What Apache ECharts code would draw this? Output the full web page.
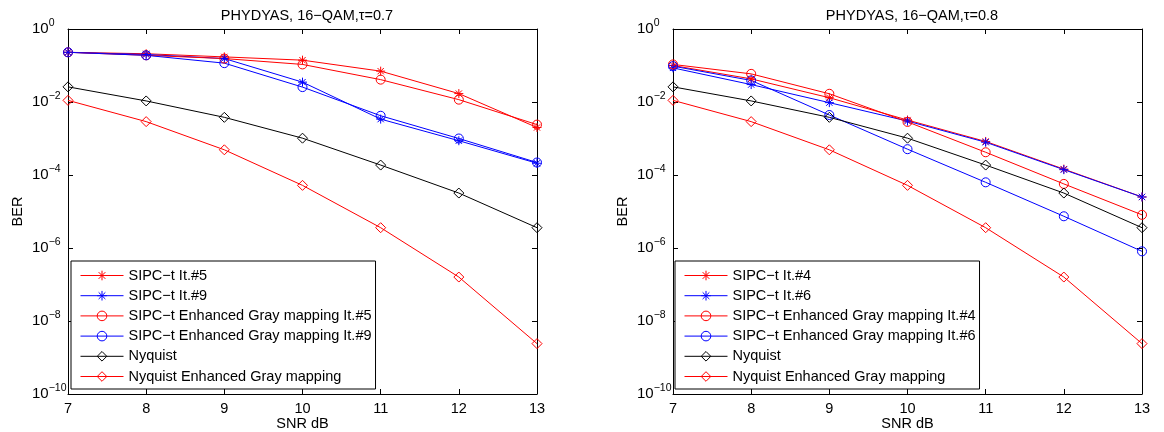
<!DOCTYPE html>
<html>
<head>
<meta charset="utf-8">
<script src="https://cdn.jsdelivr.net/npm/echarts@6/dist/echarts.min.js"></script>
<style>html,body{margin:0;padding:0;background:#fff;}#c{width:1164px;height:432px;}</style>
</head>
<body>
<div id="c"></div>
<script>
// ---- data ----
const snr = [7, 8, 9, 10, 11, 12, 13];
const yTicks = [1e-10, 1e-8, 1e-6, 1e-4, 1e-2, 1];

const titleL = 'PHYDYAS, 16\u2212QAM,\u03c4=0.7';
const titleR = 'PHYDYAS, 16\u2212QAM,\u03c4=0.8';

// left panel (tau = 0.7)
const namesL = ['SIPC\u2212t It.#5', 'SIPC\u2212t It.#9', 'SIPC\u2212t Enhanced Gray mapping It.#5',
  'SIPC\u2212t Enhanced Gray mapping It.#9', 'Nyquist', 'Nyquist Enhanced Gray mapping'];
const sipc5 = [0.23, 0.21, 0.172, 0.14, 0.07, 0.017, 0.0020];
const sipc9 = [0.23, 0.20, 0.155, 0.035, 0.0034, 8.7e-4, 2.1e-4];
const egm5 = [0.23, 0.19, 0.155, 0.107, 0.041, 0.0116, 0.0024];
const egm9 = [0.23, 0.19, 0.116, 0.0256, 0.0042, 0.0010, 2.2e-4];
const nyq = [0.026, 0.0107, 0.0038, 0.00102, 1.87e-4, 3.2e-5, 3.6e-6];
const nyqEgm = [0.0111, 0.0029, 4.9e-4, 5.2e-5, 3.6e-6, 1.6e-7, 2.4e-9];

// right panel (tau = 0.8)
const namesR = ['SIPC\u2212t It.#4', 'SIPC\u2212t It.#6', 'SIPC\u2212t Enhanced Gray mapping It.#4',
  'SIPC\u2212t Enhanced Gray mapping It.#6', 'Nyquist', 'Nyquist Enhanced Gray mapping'];
const sipc4 = [0.100, 0.043, 0.0131, 0.0032, 8.3e-4, 1.45e-4, 2.5e-5];
const sipc6 = [0.086, 0.030, 0.0096, 0.0030, 7.9e-4, 1.4e-4, 2.5e-5];
const egm4 = [0.107, 0.059, 0.0168, 0.00285, 4.2e-4, 5.7e-5, 8.1e-6];
const egm6 = [0.096, 0.039, 0.0044, 5.1e-4, 6.3e-5, 7.4e-6, 8.1e-7];
const nyqR = [0.026, 0.0107, 0.0038, 0.00102, 1.87e-4, 3.2e-5, 3.6e-6];
const nyqEgmR = [0.0111, 0.0029, 4.9e-4, 5.2e-5, 3.6e-6, 1.6e-7, 2.4e-9];

// ---- styling ----
const FONT = '"Liberation Sans", Arial, Helvetica, sans-serif';
const FS = 14.5;
const RED = '#ff0000', BLUE = '#0000ff', BLACK = '#000000';
const STAR = 'path://M5,0L5,10M0,5L10,5M1.5,1.5L8.5,8.5M1.5,8.5L8.5,1.5';
const DIAMOND = 'path://M5,0L10,5L5,10L0,5Z';
const CIRCLE = 'circle';

const grids = [
  {left: 68, top: 29, width: 469, height: 365, containLabel: false, outerBoundsMode: 'none'},
  {left: 673, top: 29, width: 469, height: 365, containLabel: false, outerBoundsMode: 'none'}
];

function yFmt(v) {
  const e = Math.round(Math.log10(v));
  return '{b|10}{s|' + (e < 0 ? '\u2212' + (-e) : String(e)) + '}';
}

const xAxes = [], yAxes = [];
[0, 1].forEach(g => {
  ['bottom', 'top'].forEach(pos => {
    xAxes.push({
      type: 'value', gridIndex: g, position: pos, min: 7, max: 13, interval: 1,
      name: pos === 'bottom' ? 'SNR dB' : '', nameLocation: 'middle', nameGap: 22,
      nameMoveOverlap: false,
      nameTextStyle: {fontFamily: FONT, fontSize: FS, color: '#000'},
      axisLine: {show: true, onZero: false, lineStyle: {color: '#000', width: 1}},
      axisTick: {show: true, inside: true, length: 5, lineStyle: {color: '#000'}},
      axisLabel: {show: pos === 'bottom', fontFamily: FONT, fontSize: FS, color: '#000', margin: 7},
      splitLine: {show: false}
    });
  });
  ['left', 'right'].forEach(pos => {
    yAxes.push({
      type: 'log', logBase: 10, gridIndex: g, position: pos, min: 1e-10, max: 1, interval: 2, splitNumber: 5,
      name: pos === 'left' ? 'BER' : '', nameLocation: 'middle', nameGap: 43, nameRotate: 90,
      nameMoveOverlap: false,
      nameTextStyle: {fontFamily: FONT, fontSize: FS, color: '#000'},
      axisLine: {show: true, onZero: false, lineStyle: {color: '#000', width: 1}},
      axisTick: {show: true, inside: true, length: 5, lineStyle: {color: '#000'}},
      minorTick: {show: false},
      axisLabel: {
        show: pos === 'left', align: 'left', margin: 36, formatter: yFmt,
        rich: {
          b: {fontFamily: FONT, fontSize: 15, color: '#000', lineHeight: 15},
          s: {fontFamily: FONT, fontSize: 10.5, color: '#000', lineHeight: 10, padding: [0, 0, 12, 0]}
        }
      },
      splitLine: {show: false}
    });
  });
});

function mk(name, vals, color, symbol, size, g) {
  return {
    type: 'line', name: name, xAxisIndex: g * 2, yAxisIndex: g * 2,
    data: snr.map((x, i) => [x, vals[i]]),
    symbol: symbol, symbolSize: size, showAllSymbol: true,
    lineStyle: {color: color, width: 1},
    itemStyle: {color: 'rgba(0,0,0,0)', borderColor: color, borderWidth: 1},
    emphasis: {disabled: true},
    animation: false, z: 3
  };
}

const series = [
  mk(namesL[0], sipc5, RED, STAR, 9, 0),
  mk(namesL[1], sipc9, BLUE, STAR, 9, 0),
  mk(namesL[2], egm5, RED, CIRCLE, 9, 0),
  mk(namesL[3], egm9, BLUE, CIRCLE, 9, 0),
  mk(namesL[4], nyq, BLACK, DIAMOND, 10, 0),
  mk(namesL[5], nyqEgm, RED, DIAMOND, 10, 0),
  mk(namesR[0], sipc4, RED, STAR, 9, 1),
  mk(namesR[1], sipc6, BLUE, STAR, 9, 1),
  mk(namesR[2], egm4, RED, CIRCLE, 9, 1),
  mk(namesR[3], egm6, BLUE, CIRCLE, 9, 1),
  mk(namesR[4] + ' ', nyqR, BLACK, DIAMOND, 10, 1),
  mk(namesR[5] + ' ', nyqEgmR, RED, DIAMOND, 10, 1)
];

function legend(left, names) {
  return {
    left: left, top: 261, orient: 'vertical',
    data: names,
    itemWidth: 43, itemHeight: 12, itemGap: 5.2,
    padding: [7, 4, 5, 9],
    backgroundColor: '#fff', borderColor: '#000', borderWidth: 1,
    selectedMode: false,
    lineStyle: {width: 1},
    itemStyle: {borderWidth: 1},
    textStyle: {fontFamily: FONT, fontSize: FS, color: '#000'},
    z: 10
  };
}

const chart = echarts.init(document.getElementById('c'), null, {renderer: 'canvas'});
chart.setOption({
  backgroundColor: '#fff',
  animation: false,
  title: [
    {text: titleL, left: 302, top: 3, textAlign: 'center',
     textStyle: {fontFamily: FONT, fontSize: FS, fontWeight: 'normal', color: '#000'}},
    {text: titleR, left: 907, top: 3, textAlign: 'center',
     textStyle: {fontFamily: FONT, fontSize: FS, fontWeight: 'normal', color: '#000'}}
  ],
  grid: grids,
  xAxis: xAxes,
  yAxis: yAxes,
  legend: [
    legend(71, namesL),
    legend(675, namesR.map((n, i) => i >= 4 ? n + ' ' : n))
  ],
  series: series
});
</script>
</body>
</html>
